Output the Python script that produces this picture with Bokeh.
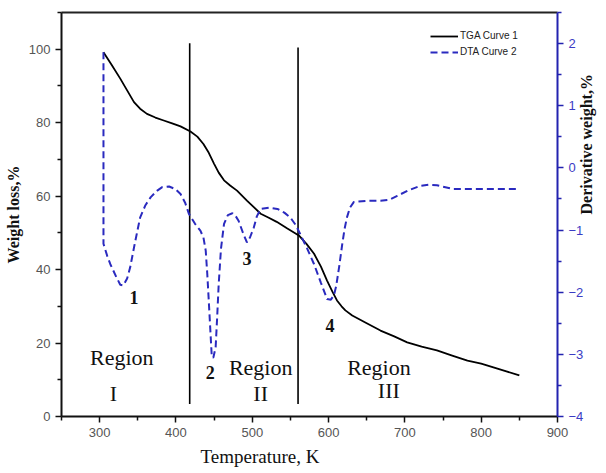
import math

from bokeh.plotting import figure
from bokeh.models import (Range1d, LinearAxis, Legend, LegendItem,
                          FixedTicker, Title)
from bokeh.embed import file_html
from bokeh.resources import INLINE
from bokeh.core.properties import value

# TGA curve (weight loss, %) versus temperature (K)
temp_tga = [305, 315, 327, 336, 345, 353, 362, 373, 384, 395, 406, 419, 428, 436,
            443, 450, 456, 463, 471, 480, 493, 502, 511, 521, 532, 546, 561, 571,
            581, 590, 598, 605, 611, 617, 622, 631, 650, 668, 686, 703, 722, 742,
            762, 782, 800, 816, 833, 850]
tga = [99.2, 96.0, 92.0, 88.8, 85.6, 83.8, 82.4, 81.4, 80.6, 79.8, 79.0, 77.6, 76.2,
       74.2, 71.8, 68.8, 66.4, 64.3, 62.9, 61.5, 58.8, 57.0, 55.2, 54.2, 53.0, 51.2,
       49.3, 47.0, 44.3, 40.8, 37.0, 34.0, 31.6, 30.0, 28.9, 27.5, 25.4, 23.4, 21.8,
       20.2, 19.0, 18.0, 16.6, 15.2, 14.4, 13.4, 12.3, 11.2]

# DTA curve (derivative weight, %) versus temperature (K)
temp_dta = [305, 305, 310, 314, 322, 327, 331, 336, 340, 346, 353, 360, 367, 375,
            382, 391, 399, 406, 412, 417, 425, 432, 436, 439, 441, 443, 445, 447,
            449, 452, 454, 456, 459, 463, 468, 474, 478, 482, 488, 493, 497, 502,
            506, 511, 522, 533, 542, 550, 557, 563, 572, 581, 590, 598, 603, 607,
            610, 614, 618, 621, 624, 628, 633, 650, 668, 680, 690, 705, 720, 731,
            742, 753, 764, 785, 807, 828, 850]
dta = [1.86, -1.22, -1.42, -1.55, -1.76, -1.88, -1.89, -1.78, -1.60, -1.22, -0.80,
       -0.60, -0.47, -0.37, -0.31, -0.30, -0.34, -0.42, -0.56, -0.74, -0.90, -1.01,
       -1.12, -1.33, -1.70, -2.14, -2.60, -3.05, -3.05, -2.89, -2.40, -1.87, -1.30,
       -0.90, -0.76, -0.73, -0.77, -0.85, -1.05, -1.20, -1.12, -0.96, -0.78, -0.66,
       -0.64, -0.66, -0.72, -0.80, -0.92, -1.07, -1.30, -1.55, -1.85, -2.11, -2.12,
       -2.05, -1.90, -1.58, -1.22, -0.98, -0.80, -0.64, -0.55, -0.53, -0.53, -0.51,
       -0.45, -0.36, -0.29, -0.27, -0.28, -0.31, -0.34, -0.34, -0.34, -0.34, -0.34]

# Region boundaries (K) and their vertical extent (weight-loss scale)
boundaries = [418, 560]
boundary_bottom = [3.4, 3.4]
boundary_top = [101.6, 100.5]

# Peak numbers
peak_names = ["1", "2", "3", "4"]
peak_x = [345, 445, 493, 602]
peak_y = [32.5, 12.1, 42.9, 24.8]

# Region captions
region_word_x = [329, 511, 666]
region_word_y = [16.1, 13.4, 13.4]
region_names = ["I", "II", "III"]
region_num_x = [318, 511, 679]
region_num_y = [6.2, 6.2, 7.0]

BLUE = "#2a2abf"
AXIS_BLUE = "#2323b0"
TICK_GRAY = "#555555"
SERIF = "Liberation Serif"
SANS = "Liberation Sans"

p = figure(frame_width=496, frame_height=404,
           x_range=Range1d(250, 900), y_range=Range1d(0, 110),
           output_backend="svg", toolbar_location=None,
           min_border_left=61, min_border_right=49,
           min_border_top=12, min_border_bottom=57)
p.xgrid.visible = False
p.ygrid.visible = False
p.outline_line_color = None
p.background_fill_color = "white"
p.border_fill_color = "white"

p.extra_y_ranges = {"dta": Range1d(-4, 2.5)}

# left axis
ya = p.yaxis[0]
ya.ticker = FixedTicker(ticks=[0, 20, 40, 60, 80, 100],
                        minor_ticks=[10, 30, 50, 70, 90, 110])
ya.axis_label = "Weight loss,%"
ya.axis_label_text_font = SERIF
ya.axis_label_text_font_style = "bold"
ya.axis_label_text_font_size = "16px"
ya.axis_label_text_color = "#111111"
ya.axis_label_standoff = 4

# bottom axis
xa = p.xaxis[0]
xa.ticker = FixedTicker(ticks=[300, 400, 500, 600, 700, 800, 900],
                        minor_ticks=[250, 350, 450, 550, 650, 750, 850])
xa.axis_label = None

# right axis, title reading bottom-to-top
ra = LinearAxis(y_range_name="dta",
                ticker=FixedTicker(ticks=[-4, -3, -2, -1, 0, 1, 2],
                                   minor_ticks=[-3.5, -2.5, -1.5, -0.5, 0.5, 1.5, 2.5]),
                axis_label="Derivative weight,%")
p.add_layout(ra, "right")
ra.axis_label_orientation = math.pi / 2
ra.axis_label_text_font = SERIF
ra.axis_label_text_font_style = "bold"
ra.axis_label_text_font_size = "16px"
ra.axis_label_text_color = "#111111"
ra.axis_label_standoff = 0

for ax in (ya, xa, ra):
    ax.axis_line_width = 2
    ax.major_tick_line_width = 1.5
    ax.minor_tick_line_width = 1.5
    ax.major_tick_in = 0
    ax.major_tick_out = 6
    ax.minor_tick_in = 0
    ax.minor_tick_out = 4
    ax.major_label_text_font = SANS
    ax.major_label_text_font_size = "13px"
    ax.major_label_text_color = TICK_GRAY
    ax.major_label_standoff = 5

for ax in (ya, xa):
    ax.axis_line_color = "#111111"
    ax.major_tick_line_color = "#111111"
    ax.minor_tick_line_color = "#111111"

ra.axis_line_color = AXIS_BLUE
ra.major_tick_line_color = AXIS_BLUE
ra.minor_tick_line_color = AXIS_BLUE
ra.major_label_text_color = "#3b3bc4"

# top frame edge
ta = LinearAxis(ticker=FixedTicker(ticks=[]), axis_line_color="#222222",
                axis_line_width=2, major_tick_line_color=None,
                minor_tick_line_color=None, major_label_text_font_size="0px")
p.add_layout(ta, "above")

# x axis title, set a little left of centre
p.add_layout(Title(text="Temperature, K", align="left", offset=139,
                   text_font=SERIF, text_font_style="normal",
                   text_font_size="19px", text_color="#111111",
                   standoff=9), "below")

# region boundaries
p.segment(x0=boundaries, y0=boundary_bottom, x1=boundaries, y1=boundary_top,
          line_color="black", line_width=1.6)

# curves
r_tga = p.line(temp_tga, tga, line_color="black", line_width=1.8)
r_dta = p.line(temp_dta, dta, y_range_name="dta", line_color=BLUE,
               line_width=2, line_dash="7 4")

# peak numbers
p.text(x=peak_x, y=peak_y, text=peak_names, text_font=value(SERIF),
       text_font_style="bold", text_font_size="18px", text_color="#111111",
       text_align="center", text_baseline="middle")

# region captions
p.text(x=region_word_x, y=region_word_y, text=["Region"] * 3,
       text_font=value(SERIF), text_font_size="22px", text_color="#111111",
       text_align="center", text_baseline="middle")
p.text(x=region_num_x, y=region_num_y, text=region_names,
       text_font=value(SERIF), text_font_size="22px", text_color="#111111",
       text_align="center", text_baseline="middle")

legend = Legend(items=[LegendItem(label="TGA Curve 1", renderers=[r_tga]),
                       LegendItem(label="DTA Curve 2", renderers=[r_dta])],
                location=(369, 359), border_line_color=None,
                background_fill_alpha=0, padding=0, margin=0, spacing=5,
                glyph_width=28, glyph_height=10, label_height=10,
                label_standoff=2, label_text_font=SANS,
                label_text_font_size="10px", label_text_color="#222222")
p.add_layout(legend)

open("out.html", "w").write(file_html(p, INLINE))
